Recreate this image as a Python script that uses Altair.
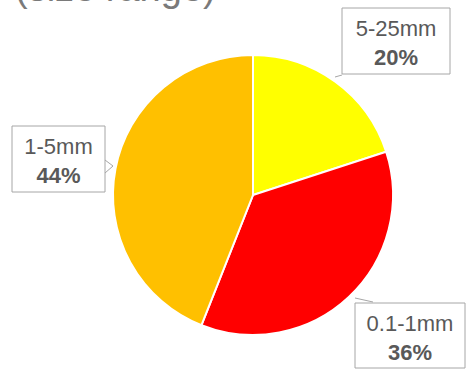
import altair as alt
import pandas as pd

# Share of particles by size class, clockwise from 12 o'clock
size_classes = ["5-25mm", "0.1-1mm", "1-5mm"]
shares = [20, 36, 44]
slice_colors = ["#FFFF00", "#FF0000", "#FFC000"]

W, H = 467, 374
CX, CY, R = 253, 195, 140

pie_df = pd.DataFrame({"size": size_classes, "share": shares, "order": range(len(shares))})

# Callout box layout (pixels): left, right, top, bottom
box_left = [342, 355, 12]
box_right = [450, 465, 105]
box_top = [8, 303, 126]
box_bottom = [74, 368, 192]

labels_df = pd.DataFrame({
    "size": size_classes,
    "pct": [f"{v}%" for v in shares],
    "x1": box_left, "x2": box_right, "y1": box_top, "y2": box_bottom,
})
labels_df["cx"] = (labels_df["x1"] + labels_df["x2"]) / 2
labels_df["line1"] = labels_df["y1"] + 28
labels_df["line2"] = labels_df["y1"] + 57

# Short leader lines from the boxes towards the pie
tails_df = pd.DataFrame({
    "x": [342, 373, 105, 113],
    "y": [75, 302, 160, 166],
    "x2": [335, 355, 113, 105],
    "y2": [77, 298, 166, 173],
})

xs = alt.Scale(domain=[0, W], range=[0, W])
ys = alt.Scale(domain=[0, H], range=[0, H])

pie = alt.Chart(pie_df).mark_arc(
    outerRadius=R, stroke="white", strokeWidth=2
).encode(
    theta=alt.Theta("share:Q", stack=True),
    order=alt.Order("order:Q"),
    color=alt.Color("size:N", scale=alt.Scale(domain=size_classes, range=slice_colors), legend=None),
    x=alt.value(CX),
    y=alt.value(CY),
)

# Heading, running off the top edge of the page
title = alt.Chart(pd.DataFrame({"t": ["(size range)"]})).mark_text(
    align="left", baseline="alphabetic", fontSize=38, font="Liberation Sans", color="#7a7a7a"
).encode(text="t:N", x=alt.value(15), y=alt.value(1))

tails = alt.Chart(tails_df).mark_rule(color="#a6a6a6", strokeWidth=1).encode(
    x=alt.X("x:Q", scale=xs, axis=None),
    y=alt.Y("y:Q", scale=ys, axis=None),
    x2="x2:Q", y2="y2:Q",
)

boxes = alt.Chart(labels_df).mark_rect(fill="white", stroke="#a6a6a6", strokeWidth=1).encode(
    x=alt.X("x1:Q", scale=xs, axis=None),
    x2="x2:Q",
    y=alt.Y("y1:Q", scale=ys, axis=None),
    y2="y2:Q",
)

name_text = alt.Chart(labels_df).mark_text(
    baseline="alphabetic", fontSize=22, font="Liberation Sans", color="#595959"
).encode(
    x=alt.X("cx:Q", scale=xs, axis=None),
    y=alt.Y("line1:Q", scale=ys, axis=None),
    text="size:N",
)

pct_text = alt.Chart(labels_df).mark_text(
    baseline="alphabetic", fontSize=22, font="Liberation Sans", fontWeight="bold", color="#595959"
).encode(
    x=alt.X("cx:Q", scale=xs, axis=None),
    y=alt.Y("line2:Q", scale=ys, axis=None),
    text="pct:N",
)

chart = alt.layer(pie, title, tails, boxes, name_text, pct_text).properties(
    width=W, height=H, padding=0, autosize=alt.AutoSizeParams(type="none"), background="white"
).configure_view(stroke=None)

chart.save("out.html", embed_options={"renderer": "svg", "actions": False})
